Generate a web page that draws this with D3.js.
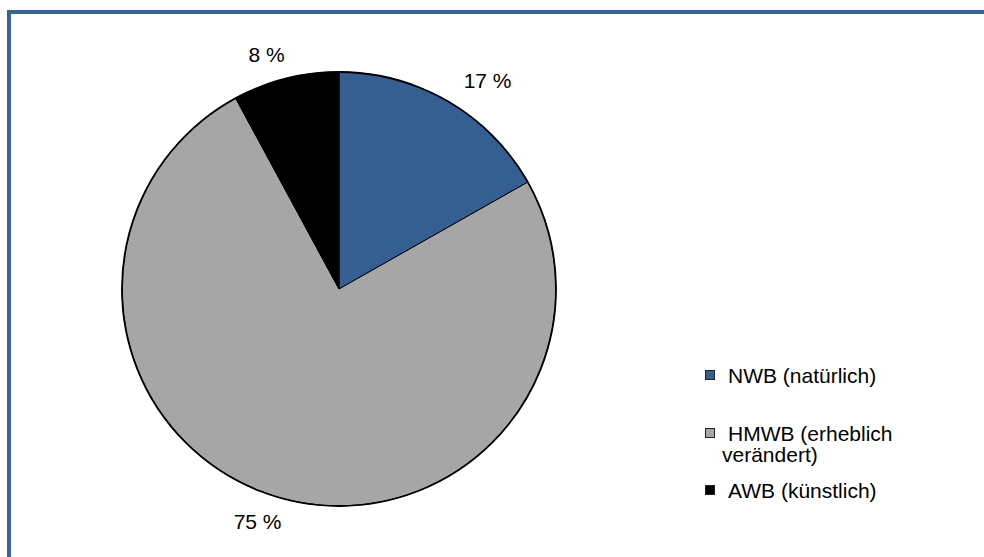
<!DOCTYPE html>
<html>
<head>
<meta charset="utf-8">
<script src="https://cdn.jsdelivr.net/npm/d3@7"></script>
<style>
  html, body { margin: 0; padding: 0; background: #fff; }
  svg { display: block; }
  text { font-family: "Liberation Sans", Arial, sans-serif; fill: #000; }
</style>
</head>
<body>
<svg id="chart" width="984" height="557"></svg>
<script>
// Data
const categories = ["NWB (natürlich)", "HMWB (erheblich|verändert)", "AWB (künstlich)"];
const values = [16.8, 75.3, 7.9];
const colors = ["#365f91", "#a6a6a6", "#000000"];

const W = 984, H = 557;
const svg = d3.select("#chart");

// outer frame (extends beyond right/bottom edge)
svg.append("rect")
  .attr("x", 9).attr("y", 12)
  .attr("width", 1000).attr("height", 600)
  .attr("fill", "#fff")
  .attr("stroke", "#3a6496")
  .attr("stroke-width", 4);

const cx = 339, cy = 289, R = 217;
const g = svg.append("g").attr("transform", `translate(${cx},${cy})`);

const pie = d3.pie().sort(null).value(d => d)(values);
const arc = d3.arc().innerRadius(0).outerRadius(R);

g.selectAll("path.slice")
  .data(pie)
  .join("path")
  .attr("class", "slice")
  .attr("d", arc)
  .attr("fill", (d, i) => colors[i])
  .attr("stroke", "#000")
  .attr("stroke-width", 1)
  .attr("stroke-linejoin", "round");

g.append("circle").attr("r", R).attr("fill", "none")
  .attr("stroke", "#000").attr("stroke-width", 1.8);

// labels outside end
const rx = 295, ry = 242;
const fmt = d3.format(".0f");
g.selectAll("text.lbl")
  .data(pie)
  .join("text")
  .attr("class", "lbl")
  .attr("x", d => Math.sin((d.startAngle + d.endAngle) / 2) * rx)
  .attr("y", d => -Math.cos((d.startAngle + d.endAngle) / 2) * ry)
  .attr("dy", "0.36em")
  .attr("text-anchor", "middle")
  .style("font-size", "21px")
  .text(d => fmt(d.data) + " %");

// legend
const lg = svg.append("g");
const rowY = [376, 434, 491];
categories.forEach((c, i) => {
  const y = rowY[i];
  lg.append("rect")
    .attr("x", 705.5).attr("y", y - 5.5)
    .attr("width", 9).attr("height", 9)
    .attr("fill", colors[i])
    .attr("stroke", "#222").attr("stroke-width", 1);
  const parts = c.split("|");
  const t = lg.append("text")
    .attr("x", 728).attr("y", y + 7)
    .style("font-size", "21px");
  parts.forEach((p, j) => {
    t.append("tspan")
      .attr("x", j === 0 ? 728 : 722)
      .attr("dy", j === 0 ? 0 : 21)
      .text(p);
  });
});
</script>
</body>
</html>
